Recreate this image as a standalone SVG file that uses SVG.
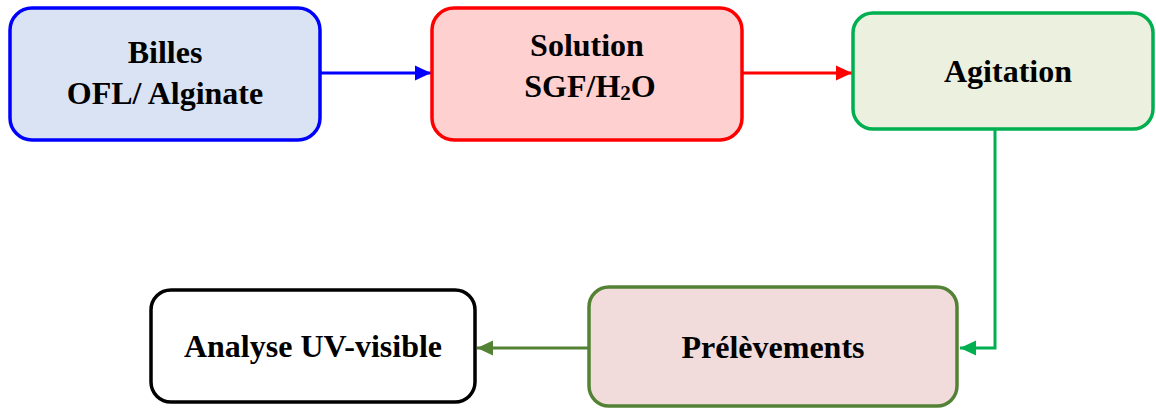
<svg xmlns="http://www.w3.org/2000/svg" width="1156" height="408" viewBox="0 0 1156 408">
<style>
.box{stroke-width:3.5}
.lbl{font-family:"Liberation Serif","Times New Roman",serif;font-weight:bold;font-size:32px;fill:#000;text-anchor:middle}
.con{fill:none;stroke-width:3}
</style>
<defs>
<marker id="aBlue" markerUnits="userSpaceOnUse" markerWidth="16" markerHeight="16" refX="16" refY="8" orient="auto"><path d="M0,0.5 L16,8 L0,15.5 Z" fill="#0000ff"/></marker>
<marker id="aRed" markerUnits="userSpaceOnUse" markerWidth="16" markerHeight="16" refX="16" refY="8" orient="auto"><path d="M0,0.5 L16,8 L0,15.5 Z" fill="#ff0000"/></marker>
<marker id="aGreen" markerUnits="userSpaceOnUse" markerWidth="16" markerHeight="16" refX="16" refY="8" orient="auto"><path d="M0,0.5 L16,8 L0,15.5 Z" fill="#00b050"/></marker>
<marker id="aOlive" markerUnits="userSpaceOnUse" markerWidth="16" markerHeight="16" refX="16" refY="8" orient="auto"><path d="M0,0.5 L16,8 L0,15.5 Z" fill="#548235"/></marker>
</defs>
<rect width="1156" height="408" fill="#ffffff"/>
<g id="connectors">
<path class="con" d="M320,73 H431" stroke="#0000ff" marker-end="url(#aBlue)"/>
<path class="con" d="M742,73 H852" stroke="#ff0000" marker-end="url(#aRed)"/>
<path class="con" d="M995,129 V348 H960" stroke="#00b050" marker-end="url(#aGreen)"/>
<path class="con" d="M588,348 H477" stroke="#548235" marker-end="url(#aOlive)"/>
</g>
<g id="billes">
<rect class="box" x="10" y="8" width="310" height="132" rx="22" fill="#dae3f3" stroke="#0000ff"/>
<text class="lbl" x="165" y="63">Billes</text>
<text class="lbl" x="165" y="104">OFL/ Alginate</text>
</g>
<g id="solution">
<rect class="box" x="432" y="8" width="310" height="132" rx="22" fill="#ffd0d0" stroke="#ff0000"/>
<text class="lbl" x="587" y="56">Solution</text>
<text class="lbl" x="590" y="97">SGF/H<tspan font-size="21" dy="3">2</tspan><tspan dy="-3">O</tspan></text>
</g>
<g id="agitation">
<rect class="box" x="853" y="13" width="300" height="116" rx="20" fill="#ebf0df" stroke="#00b050"/>
<text class="lbl" x="1008" y="82">Agitation</text>
</g>
<g id="prelevements">
<rect class="box" x="589" y="287" width="368" height="119" rx="20" fill="#f2dcdb" stroke="#548235"/>
<text class="lbl" x="773" y="358">Prélèvements</text>
</g>
<g id="analyse">
<rect class="box" x="151" y="290" width="324" height="112" rx="20" fill="#ffffff" stroke="#000000"/>
<text class="lbl" x="313" y="357">Analyse UV-visible</text>
</g>
</svg>
